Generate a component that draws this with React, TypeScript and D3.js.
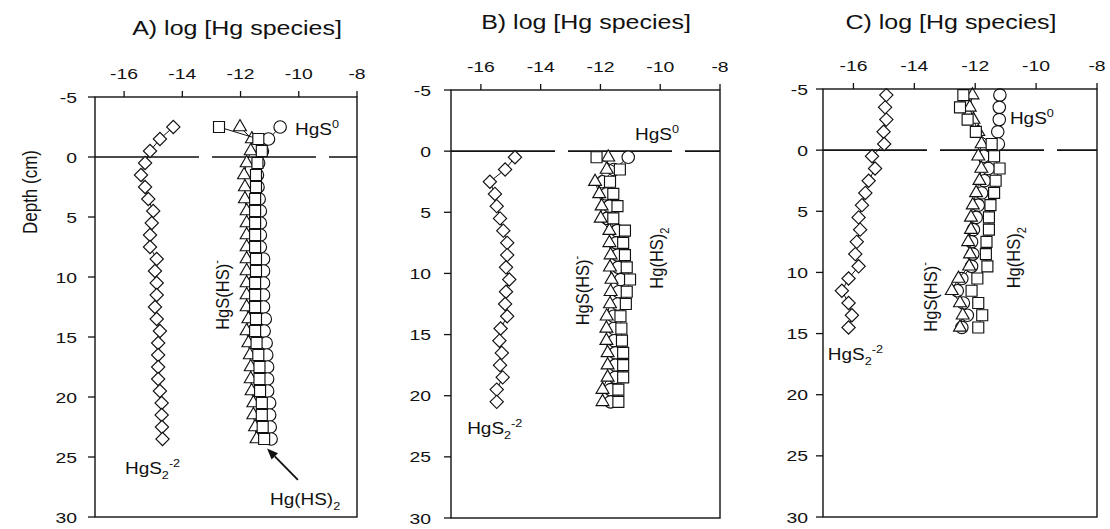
import React from 'react';
import * as d3 from 'd3';

// depth (cm) of each sample, per core
const depthA = [-2.5, -1.5, -0.5, 0.5, 1.5, 2.5, 3.5, 4.5, 5.5, 6.5, 7.5, 8.5, 9.5, 10.5, 11.5, 12.5, 13.5, 14.5, 15.5, 16.5, 17.5, 18.5, 19.5, 20.5, 21.5, 22.5, 23.5];
const depthB = [0.5, 1.5, 2.5, 3.5, 4.5, 5.5, 6.5, 7.5, 8.5, 9.5, 10.5, 11.5, 12.5, 13.5, 14.5, 15.5, 16.5, 17.5, 18.5, 19.5, 20.5];
const depthC = [-4.5, -3.5, -2.5, -1.5, -0.5, 0.5, 1.5, 2.5, 3.5, 4.5, 5.5, 6.5, 7.5, 8.5, 9.5, 10.5, 11.5, 12.5, 13.5, 14.5];

// log concentrations, panel A
const hgS2A = [-14.31, -14.77, -15.11, -15.28, -15.42, -15.28, -15.17, -15.0, -15.05, -15.11, -15.11, -14.88, -14.94, -14.88, -14.88, -14.94, -14.88, -14.77, -14.83, -14.83, -14.83, -14.83, -14.77, -14.71, -14.71, -14.7, -14.68];
const hgS0A = [-10.64, -11.04, -11.25, -11.38, -11.42, -11.4, -11.36, -11.32, -11.32, -11.32, -11.32, -11.21, -11.21, -11.21, -11.21, -11.21, -11.15, -11.19, -11.12, -11.1, -11.07, -11.07, -11.07, -11.0, -11.0, -10.98, -10.95];
const hgSHSA = [-12.02, -11.61, -11.65, -11.79, -11.88, -11.85, -11.85, -11.79, -11.79, -11.79, -11.79, -11.79, -11.79, -11.79, -11.79, -11.79, -11.73, -11.79, -11.73, -11.68, -11.65, -11.65, -11.62, -11.56, -11.56, -11.5, -11.45];
const hgHS2A = [-12.74, -11.39, -11.27, -11.42, -11.47, -11.47, -11.5, -11.5, -11.5, -11.5, -11.5, -11.47, -11.47, -11.5, -11.5, -11.5, -11.47, -11.5, -11.45, -11.39, -11.35, -11.35, -11.33, -11.27, -11.27, -11.24, -11.19];

// panel B
const hgS2B = [-14.86, -15.19, -15.7, -15.53, -15.47, -15.36, -15.25, -15.12, -15.12, -15.16, -15.05, -15.16, -15.19, -15.12, -15.34, -15.38, -15.3, -15.36, -15.27, -15.47, -15.47];
const hgS0B = [-11.07, -11.55, -11.93, -11.8, -11.7, -11.78, -11.44, -11.47, -11.42, -11.4, -11.32, -11.39, -11.42, -11.56, -11.55, -11.54, -11.5, -11.5, -11.5, -11.66, -11.66];
const hgSHSB = [-11.74, -11.79, -12.18, -12.04, -11.96, -11.99, -11.7, -11.7, -11.66, -11.68, -11.63, -11.66, -11.68, -11.79, -11.8, -11.8, -11.76, -11.76, -11.76, -11.93, -11.93];
const hgHS2B = [-12.13, -11.35, -11.68, -11.57, -11.43, -11.57, -11.18, -11.24, -11.18, -11.12, -11.01, -11.12, -11.15, -11.33, -11.3, -11.28, -11.24, -11.24, -11.24, -11.4, -11.4];

// panel C
const hgS2C = [-14.92, -14.96, -14.92, -15.01, -14.99, -15.39, -15.29, -15.5, -15.61, -15.72, -15.83, -15.78, -15.89, -15.94, -15.83, -16.16, -16.38, -16.16, -16.05, -16.16];
const hgS0C = [-11.19, -11.21, -11.21, -11.26, -11.24, -11.72, -11.57, -11.7, -11.79, -11.9, -11.97, -12.06, -12.12, -12.08, -12.12, -12.44, -12.59, -12.39, -12.26, -12.44];
const hgSHSC = [-12.09, -12.18, -12.06, -11.9, -11.79, -11.9, -11.8, -11.86, -11.97, -12.08, -12.14, -12.14, -12.23, -12.17, -12.2, -12.55, -12.77, -12.5, -12.41, -12.5];
const hgHS2C = [-12.39, -12.5, -12.25, -11.98, -11.46, -11.38, -11.2, -11.33, -11.38, -11.5, -11.55, -11.55, -11.63, -11.65, -11.6, -11.93, -12.12, -11.9, -11.77, -11.9];

const xTicks = [-16, -14, -12, -10, -8];
const yTicks = [-5, 0, 5, 10, 15, 20, 25, 30];
const titles = ['A) log [Hg species]', 'B) log [Hg species]', 'C) log [Hg species]'];

const FONT = '"Liberation Sans", Arial, Helvetica, sans-serif';

// the scanned figure is stretched sideways, so text gets a horizontal scale
function Txt({ x, y, size, sx = 1.2, rot = 0, anchor = 'start', children }: any) {
  const tr = rot
    ? `translate(${x},${y}) rotate(${rot}) scale(1,${sx})`
    : `translate(${x},${y}) scale(${sx},1)`;
  return (
    <text transform={tr} fontSize={size} textAnchor={anchor} fontFamily={FONT} fill="#111">
      {children}
    </text>
  );
}

const sym = {
  diamond: d3.symbol(d3.symbolSquare, 88)(),
  circle: d3.symbol(d3.symbolCircle, 122)(),
  triangle: d3.symbol(d3.symbolTriangle, 72)(),
  square: d3.symbol(d3.symbolSquare, 121)(),
};

const panels = [
  {
    depth: depthA, s2: hgS2A, s0: hgS0A, shs: hgSHSA, hs2: hgHS2A,
    x0: 95, x1: 357, y0: 97, y1: 517, gap: 18, title: [237, 35],
    hgs0: [-10.13, -1.85], hgs2: [-15.97, 26.4], shsLab: [-12.4, 11.5], hs2Lab: [-10.99, 29.0], horizHs2: true,
    arrow: [[-10.03, 26.9], [-11.09, 24.3]],
  },
  {
    depth: depthB, s2: hgS2B, s0: hgS0B, shs: hgSHSB, hs2: hgHS2B,
    x0: 451, x1: 720, y0: 90, y1: 518, gap: 20, title: [586, 29],
    hgs0: [-10.84, -0.9], hgs2: [-16.46, 23.1], shsLab: [-12.38, 11.4], hs2Lab: [-9.91, 8.75], horizHs2: false,
    arrow: null,
  },
  {
    depth: depthC, s2: hgS2C, s0: hgS0C, shs: hgSHSC, hs2: hgHS2C,
    x0: 823, x1: 1097, y0: 89, y1: 517, gap: 15, title: [951, 29],
    hgs0: [-10.86, -2.13], hgs2: [-16.84, 17.2], shsLab: [-13.25, 12.0], hs2Lab: [-10.53, 8.8], horizHs2: false,
    arrow: null,
  },
];

function Panel({ p, i }: any) {
  const x = d3.scaleLinear().domain([-17, -8]).range([p.x0, p.x1]);
  const y = d3.scaleLinear().domain([-5, 30]).range([p.y0, p.y1]);
  const line = d3.line<number>().x((v) => x(v)).y((_, j) => y(p.depth[j]));

  const series = [
    { vals: p.s2, d: sym.diamond, rot: 45 },
    { vals: p.s0, d: sym.circle, rot: 0 },
    { vals: p.shs, d: sym.triangle, rot: 0 },
    { vals: p.hs2, d: sym.square, rot: 0 },
  ];

  let arrow = null;
  if (p.arrow) {
    const [a, b] = p.arrow;
    const ax = x(a[0]), ay = y(a[1]), bx = x(b[0]), by = y(b[1]);
    const ang = Math.atan2(by - ay, bx - ax);
    const L = 11, wdt = 4.5;
    const hx = bx - L * Math.cos(ang), hy = by - L * Math.sin(ang);
    const pts = [
      [bx, by],
      [hx + wdt * Math.sin(ang), hy - wdt * Math.cos(ang)],
      [hx - wdt * Math.sin(ang), hy + wdt * Math.cos(ang)],
    ];
    arrow = (
      <g>
        <line x1={ax} y1={ay} x2={hx} y2={hy} stroke="#111" strokeWidth={1.8} />
        <polygon points={pts.map((q) => q.join(',')).join(' ')} fill="#111" />
      </g>
    );
  }

  return (
    <g>
      <Txt x={p.title[0]} y={p.title[1]} size={20} sx={1.25} anchor="middle">{titles[i]}</Txt>

      <line x1={x(-17)} x2={x(-8)} y1={y(0)} y2={y(0)} stroke="#111" strokeWidth={1.6} strokeDasharray="104,13" />

      {series.map((s, k) => (
        <g key={k}>
          <path d={line(s.vals) || ''} fill="none" stroke="#111" strokeWidth={1} />
          {s.vals.map((v: number, j: number) => (
            <path
              key={j}
              d={s.d || ''}
              transform={`translate(${x(v)},${y(p.depth[j])}) rotate(${s.rot})`}
              fill="#fff"
              stroke="#111"
              strokeWidth={1.15}
            />
          ))}
        </g>
      ))}

      <rect x={p.x0} y={p.y0} width={p.x1 - p.x0} height={p.y1 - p.y0} fill="none" stroke="#111" strokeWidth={1.4} />
      {xTicks.map((t) => (
        <g key={t}>
          <line x1={x(t)} x2={x(t)} y1={p.y0 - 6} y2={p.y0} stroke="#111" strokeWidth={1.3} />
          <Txt x={x(t)} y={p.y0 - 18} size={15.5} sx={1.25} anchor="middle">{String(t)}</Txt>
        </g>
      ))}
      {yTicks.map((t) => (
        <g key={t}>
          <line x1={p.x0 - 7} x2={p.x0} y1={y(t)} y2={y(t)} stroke="#111" strokeWidth={1.3} />
          <Txt x={p.x0 - p.gap} y={y(t) + 5.5} size={15.5} sx={1.25} anchor="end">{String(t)}</Txt>
        </g>
      ))}

      <Txt x={x(p.hgs0[0])} y={y(p.hgs0[1])} size={16.5} sx={1.15}>
        HgS<tspan fontSize={11} dy={-7}>0</tspan>
      </Txt>
      <Txt x={x(p.hgs2[0])} y={y(p.hgs2[1])} size={16.5} sx={1.15}>
        HgS<tspan fontSize={11} dy={5}>2</tspan>
        <tspan fontSize={11} dy={-12}>-2</tspan>
      </Txt>
      <Txt x={x(p.shsLab[0])} y={y(p.shsLab[1])} size={16.5} sx={1.15} rot={-90} anchor="middle">
        HgS(HS)<tspan fontSize={11} dy={-7}>-</tspan>
      </Txt>
      {p.horizHs2 ? (
        <Txt x={x(p.hs2Lab[0])} y={y(p.hs2Lab[1])} size={16.5} sx={1.15}>
          Hg(HS)<tspan fontSize={11} dy={5}>2</tspan>
        </Txt>
      ) : (
        <Txt x={x(p.hs2Lab[0])} y={y(p.hs2Lab[1])} size={16.5} sx={1.15} rot={-90} anchor="middle">
          Hg(HS)<tspan fontSize={11} dy={5}>2</tspan>
        </Txt>
      )}
      {arrow}
    </g>
  );
}

export default function App() {
  return (
    <svg
      width={1110}
      height={529}
      style={{ position: 'absolute', left: 0, top: 0, background: '#fff' }}
    >
      <rect width={1110} height={529} fill="#fff" />
      <Txt x={37} y={192} size={17} sx={1.2} rot={-90} anchor="middle">Depth (cm)</Txt>
      {panels.map((p, i) => (
        <Panel key={i} p={p} i={i} />
      ))}
    </svg>
  );
}
